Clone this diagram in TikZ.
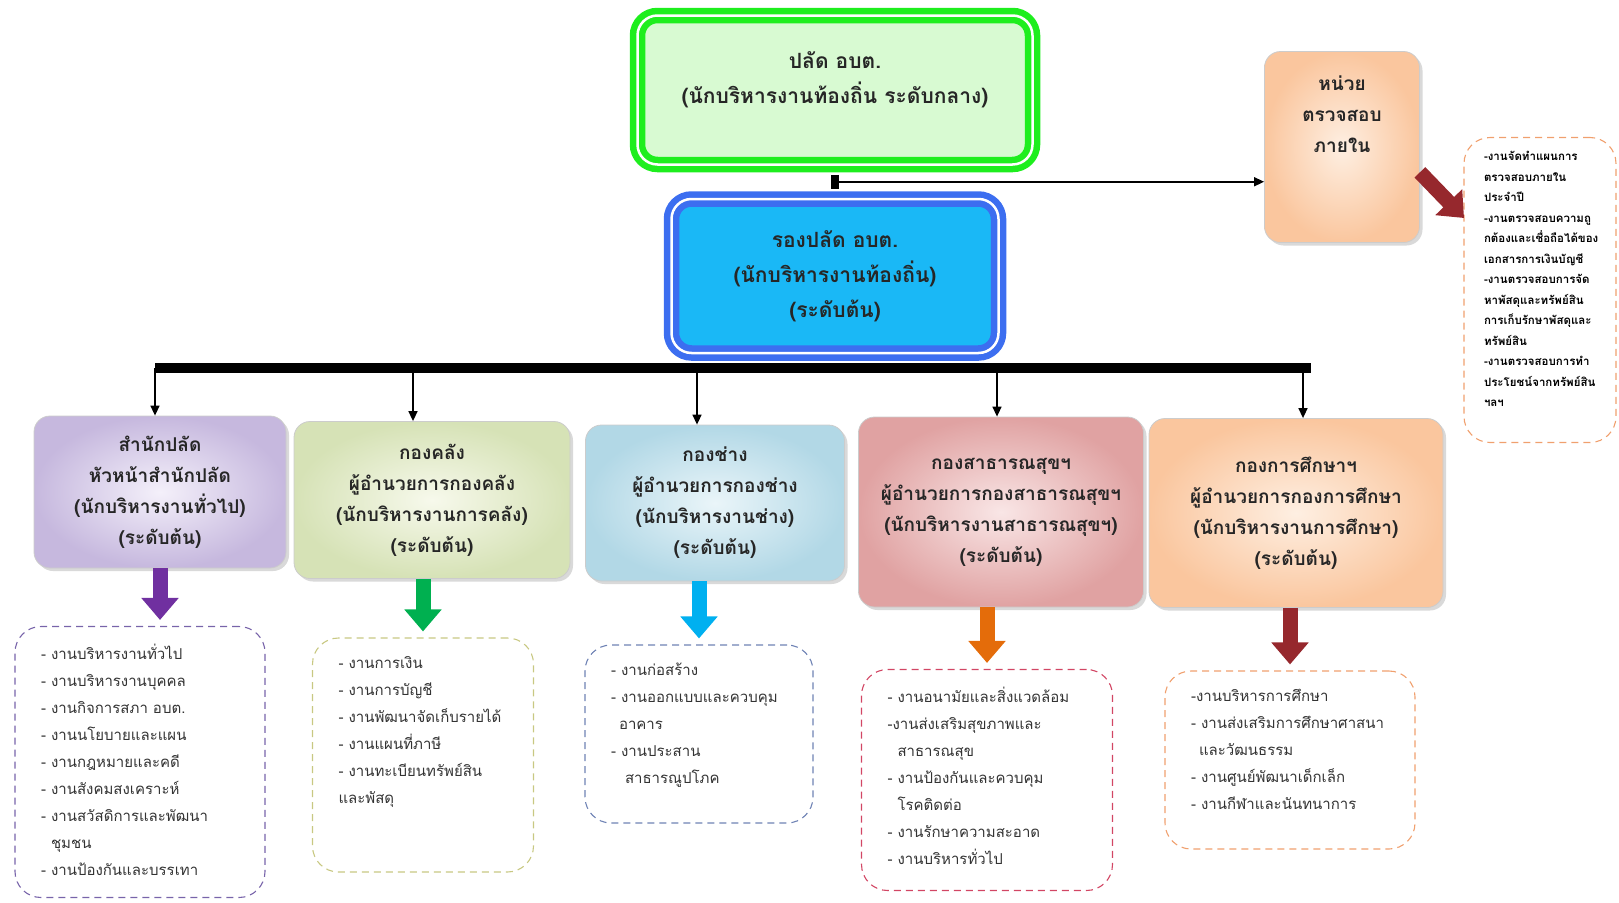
\documentclass[tikz,border=0pt]{standalone}
\usepackage{fontspec}
\setmainfont[Script=Thai]{Loma}
\usetikzlibrary{arrows.meta,shadows,calc}
\definecolor{topline}{RGB}{30,238,30}
\definecolor{topfill}{RGB}{216,250,210}
\definecolor{subline}{RGB}{60,110,240}
\definecolor{subfill}{RGB}{26,184,246}
\definecolor{arPur}{RGB}{112,48,160}
\definecolor{arGrn}{RGB}{0,176,80}
\definecolor{arCyn}{RGB}{0,176,240}
\definecolor{arOrg}{RGB}{228,108,10}
\definecolor{arRed}{RGB}{150,40,45}
\definecolor{purIn}{RGB}{244,240,250}\definecolor{purOut}{RGB}{198,184,222}
\definecolor{grnIn}{RGB}{247,249,236}\definecolor{grnOut}{RGB}{214,226,182}
\definecolor{cynIn}{RGB}{234,245,249}\definecolor{cynOut}{RGB}{178,216,230}
\definecolor{redIn}{RGB}{249,230,230}\definecolor{redOut}{RGB}{224,162,162}
\definecolor{orgIn}{RGB}{254,239,226}\definecolor{orgOut}{RGB}{250,198,158}
\definecolor{dPur}{RGB}{120,100,170}
\definecolor{dGrn}{RGB}{200,200,130}
\definecolor{dCyn}{RGB}{110,130,180}
\definecolor{dRed}{RGB}{210,70,100}
\definecolor{dOrg}{RGB}{240,160,110}
\newcommand{\jobs}[3]{\begin{minipage}[c][#1][t]{#2}\raggedright #3\end{minipage}}
\begin{document}
\begin{tikzpicture}[x=1pt,y=-1pt,>={Triangle[length=10pt,width=9pt]},
  every node/.style={font=\fontsize{19}{31}\selectfont\bfseries,text=black!85},
  head/.style={rounded corners=20pt,align=center,line width=6.5pt,double=white,double distance=2.5pt,
    font=\fontsize{21}{35}\selectfont\bfseries},
  unit/.style={rounded corners=16pt,align=center,draw=black!20,line width=0.8pt,
    inner color=#1In,outer color=#1Out,
    drop shadow={opacity=0.3,shadow xshift=3pt,shadow yshift=-3pt}},
  task/.style={draw=#1,rounded corners=26pt,line width=1.1pt,dash pattern=on 7pt off 5pt,
    inner xsep=26pt,inner ysep=18pt,font=\fontsize{15}{27}\selectfont,text=black!80},
  blk/.style={line width=15pt,-{Triangle[length=22pt,width=36pt]},shorten >=6pt}]
\useasboundingbox (0,0) rectangle (1619,902);
\node[head,draw=topline,fill=topfill,minimum width=395pt,minimum height=149pt] (palad) at (835,90)
  {ปลัด อบต.\\(นักบริหารงานท้องถิ่น ระดับกลาง)\\[-11pt]\mbox{}};
\node[head,draw=subline,fill=subfill,minimum width=327pt,minimum height=154pt] (rong) at (835,276)
  {รองปลัด อบต.\\(นักบริหารงานท้องถิ่น)\\(ระดับต้น)};
\node[unit=org,inner sep=12pt] (audit) at (1342,147)
  {\jobs{167pt}{131pt}{\centering\vspace*{12pt}หน่วย\\ตรวจสอบ\\ภายใน}};
\node[task=dOrg,inner xsep=20pt,inner ysep=14pt,
  font=\fontsize{11.5}{20.5}\selectfont\bfseries,text=black] (alist) at (1540,290)
  {\jobs{277pt}{112pt}{-งานจัดทำแผนการ\\ตรวจสอบภายใน\\ประจำปี\\-งานตรวจสอบความถู\\กต้องและเชื่อถือได้ของ\\เอกสารการเงินบัญชี\\-งานตรวจสอบการจัด\\หาพัสดุและทรัพย์สิน\\การเก็บรักษาพัสดุและ\\ทรัพย์สิน\\-งานตรวจสอบการทำ\\ประโยชน์จากทรัพย์สิน\\ฯลฯ}};
% divisions
\node[unit=pur,minimum width=252pt,minimum height=152pt] (b1) at (160,492)
  {สำนักปลัด\\หัวหน้าสำนักปลัด\\(นักบริหารงานทั่วไป)\\(ระดับต้น)};
\node[unit=grn,minimum width=276pt,minimum height=157pt] (b2) at (432,500)
  {กองคลัง\\ผู้อำนวยการกองคลัง\\(นักบริหารงานการคลัง)\\(ระดับต้น)};
\node[unit=cyn,minimum width=259pt,minimum height=156pt] (b3) at (715,503)
  {กองช่าง\\ผู้อำนวยการกองช่าง\\(นักบริหารงานช่าง)\\(ระดับต้น)};
\node[unit=red,minimum width=285pt,minimum height=190pt] (b4) at (1001,512)
  {กองสาธารณสุขฯ\\ผู้อำนวยการกองสาธารณสุขฯ\\(นักบริหารงานสาธารณสุขฯ)\\(ระดับต้น)};
\node[unit=org,minimum width=294pt,minimum height=189pt] (b5) at (1296,513)
  {กองการศึกษาฯ\\ผู้อำนวยการกองการศึกษา\\(นักบริหารงานการศึกษา)\\(ระดับต้น)};
% job lists
\node[task=dPur] (l1) at (140,762)
  {\jobs{235pt}{198pt}{- งานบริหารงานทั่วไป\\- งานบริหารงานบุคคล\\- งานกิจการสภา อบต.\\- งานนโยบายและแผน\\- งานกฎหมายและคดี\\- งานสังคมสงเคราะห์\\- งานสวัสดิการและพัฒนา\\\hspace*{10pt}ชุมชน\\- งานป้องกันและบรรเทา}};
\node[task=dGrn] (l2) at (423,755)
  {\jobs{198pt}{169pt}{- งานการเงิน\\- งานการบัญชี\\- งานพัฒนาจัดเก็บรายได้\\- งานแผนที่ภาษี\\- งานทะเบียนทรัพย์สิน\\และพัสดุ}};
\node[task=dCyn] (l3) at (699,734)
  {\jobs{142pt}{176pt}{- งานก่อสร้าง\\- งานออกแบบและควบคุม\\\hspace*{8pt}อาคาร\\- งานประสาน\\\hspace*{14pt}สาธารณูปโภค}};
\node[task=dRed] (l4) at (987,780)
  {\jobs{185pt}{199pt}{- งานอนามัยและสิ่งแวดล้อม\\-งานส่งเสริมสุขภาพและ\\\hspace*{10pt}สาธารณสุข\\- งานป้องกันและควบคุม\\\hspace*{10pt}โรคติดต่อ\\- งานรักษาความสะอาด\\- งานบริหารทั่วไป}};
\node[task=dOrg] (l5) at (1290,760)
  {\jobs{142pt}{198pt}{-งานบริหารการศึกษา\\- งานส่งเสริมการศึกษาศาสนา\\\hspace*{8pt}และวัฒนธรรม\\- งานศูนย์พัฒนาเด็กเล็ก\\- งานกีฬาและนันทนาการ}};
% connectors
\coordinate (j1) at ($(palad.south)!0.5!(rong.north)$);
\coordinate (busL) at (155,368);
\coordinate (busR) at (1311,368);
\coordinate (aend) at (1464,218);
\draw[line width=8pt,shorten <=7pt,shorten >=7pt] (palad.south) -- (rong.north);
\draw[->,line width=1.5pt] (j1) -- (j1 -| audit.west);
\draw[line width=2pt,shorten <=7pt] (rong.south) -- (rong.south |- busL);
\draw[line width=10pt] (busL) -- (busR);
\foreach \b/\dx in {b1/-5,b2/-19,b3/-18,b4/-4,b5/7}
  \draw[->,line width=1.5pt] (\b.north |- busL) ++(\dx,0) -- ([xshift=\dx pt]\b.north);
\draw[blk,draw=arPur] (b1.south) -- (b1.south |- l1.north);
\draw[blk,draw=arGrn] (l2.north |- b2.south) -- (l2.north);
\draw[blk,draw=arCyn] (l3.north |- b3.south) -- (l3.north);
\draw[blk,draw=arOrg] (l4.north |- b4.south) -- (l4.north);
\draw[blk,draw=arRed] (l5.north |- b5.south) -- (l5.north);
\draw[blk,draw=arRed,shorten >=0pt] (audit.-18) -- (aend);
\end{tikzpicture}
\end{document}
